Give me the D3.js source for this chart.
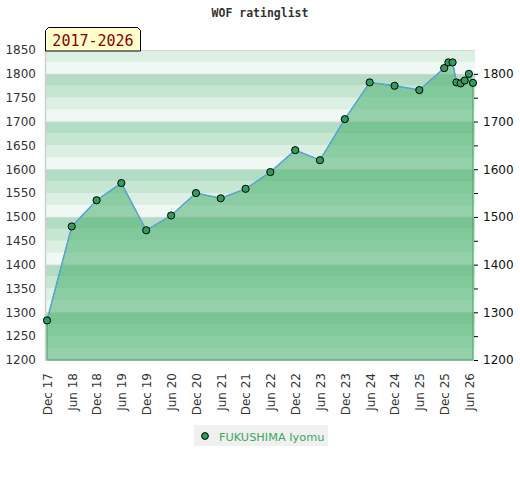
<!DOCTYPE html>
<html>
<head>
<meta charset="utf-8">
<script src="https://cdn.jsdelivr.net/npm/d3@7"></script>
<style>
  body { margin: 0; background: #fff; }
  text { font-family: "DejaVu Sans", sans-serif; }
</style>
</head>
<body>
<svg id="chart" width="520" height="480"></svg>
<script>
// data
var months = ['2017-12', '2018-06', '2018-12', '2019-06', '2019-12', '2020-06', '2020-12',
  '2021-06', '2021-12', '2022-06', '2022-12', '2023-06', '2023-12', '2024-06', '2024-12',
  '2025-06', '2025-12', '2026-01', '2026-02', '2026-03', '2026-04', '2026-05', '2026-06', '2026-07'];
var ratings = [1283, 1480, 1535, 1571, 1472, 1503, 1550, 1539, 1559, 1594, 1640, 1619, 1705,
  1782, 1775, 1766, 1812, 1824, 1824, 1782, 1780, 1786, 1800, 1781];
var xTicks = ['2017-12', '2018-06', '2018-12', '2019-06', '2019-12', '2020-06', '2020-12',
  '2021-06', '2021-12', '2022-06', '2022-12', '2023-06', '2023-12', '2024-06', '2024-12',
  '2025-06', '2025-12', '2026-06'];
var leftTicks = [1200, 1250, 1300, 1350, 1400, 1450, 1500, 1550, 1600, 1650, 1700, 1750, 1800, 1850];
var rightTicks = [1200, 1250, 1300, 1350, 1400, 1450, 1500, 1550, 1600, 1650, 1700, 1750, 1800];
var gridValues = [1200, 1300, 1400, 1500, 1600, 1700, 1800, 1850];
var stripeStarts = d3.range(1200, 1850, 25);
var title = 'WOF ratinglist';
var rangeLabel = '2017-2026';
var playerName = 'FUKUSHIMA Iyomu';

var parseMonth = d3.timeParse('%Y-%m');
var data = months.map(function(m, i) { return {date: parseMonth(m), value: ratings[i]}; });

var svg = d3.select('#chart');

// skala
var x = d3.scaleTime()
  .domain([parseMonth('2017-12'), parseMonth('2026-07')])
  .range([47, 473]);
var y = d3.scaleLinear()
  .domain([1200, 1850])
  .range([360, 50]);

var plotLeft = 45, plotRight = 475;

// latar belakang bergaris
var stripeColors = ['#eff8f3', '#dcefe3', '#c6e6d2', '#b2dcc3'];
svg.append('g').selectAll('rect')
  .data(stripeStarts)
  .enter().append('rect')
  .attr('x', plotLeft)
  .attr('width', plotRight - plotLeft)
  .attr('y', function(d) { return y(d + 25); })
  .attr('height', function(d) { return y(d) - y(d + 25); })
  .attr('fill', function(d) { return stripeColors[((d - 1200) / 25) % 4]; });

svg.append('g').selectAll('line')
  .data(gridValues)
  .enter().append('line')
  .attr('x1', plotLeft).attr('x2', plotRight)
  .attr('y1', function(d) { return y(d) + 0.5; })
  .attr('y2', function(d) { return y(d) + 0.5; })
  .attr('stroke', '#d6d6d6');

svg.append('line')
  .attr('x1', plotLeft + 0.5).attr('x2', plotLeft + 0.5)
  .attr('y1', y(1850)).attr('y2', y(1200) + 1)
  .attr('stroke', '#cfcfcf').attr('stroke-width', 1.5);

// area
var area = d3.area()
  .x(function(d) { return x(d.date); })
  .y0(y(1200))
  .y1(function(d) { return y(d.value); });
svg.append('path')
  .datum(data)
  .attr('d', area)
  .attr('fill', 'rgb(70,175,108)')
  .attr('fill-opacity', 0.54)
  .attr('stroke', '#3f9e5e')
  .attr('stroke-width', 1);

var line = d3.line()
  .x(function(d) { return x(d.date); })
  .y(function(d) { return y(d.value); });
svg.append('path')
  .datum(data)
  .attr('d', line)
  .attr('fill', 'none')
  .attr('stroke', '#5aa3dc')
  .attr('stroke-width', 1.4);

svg.append('g').selectAll('circle')
  .data(data)
  .enter().append('circle')
  .attr('cx', function(d) { return x(d.date); })
  .attr('cy', function(d) { return y(d.value); })
  .attr('r', 3.6)
  .attr('fill', '#2f9d5b')
  .attr('stroke', '#000')
  .attr('stroke-width', 1);

// sumbu
var yAxisLeft = d3.axisLeft(y).tickValues(leftTicks).tickSize(0).tickPadding(9)
  .tickFormat(d3.format('d'));
var gl = svg.append('g')
  .attr('transform', 'translate(' + plotLeft + ',0)')
  .call(yAxisLeft);
gl.select('.domain').remove();
gl.selectAll('text').attr('fill', '#333').style('font-size', '12px');

var yAxisRight = d3.axisRight(y).tickValues(rightTicks).tickSize(4).tickPadding(5)
  .tickFormat(function(d) { return d % 100 === 0 ? d : ''; });
var gr = svg.append('g')
  .attr('transform', 'translate(474,0)')
  .call(yAxisRight);
gr.select('.domain').remove();
gr.selectAll('line').attr('stroke', '#000');
gr.selectAll('text').attr('fill', '#111').style('font-size', '12px');

var xAxis = d3.axisBottom(x)
  .tickValues(xTicks.map(parseMonth))
  .tickFormat(d3.timeFormat('%b %y'))
  .tickSize(0);
var gx = svg.append('g')
  .attr('transform', 'translate(0,' + y(1200) + ')')
  .call(xAxis);
gx.select('.domain').remove();
gx.selectAll('text')
  .attr('transform', 'rotate(-90)')
  .attr('x', -13)
  .attr('y', 0)
  .attr('dy', '0.36em')
  .attr('text-anchor', 'end')
  .attr('fill', '#333')
  .style('font-size', '12px');

// judul
svg.append('text')
  .attr('x', 260)
  .attr('y', 17)
  .attr('text-anchor', 'middle')
  .style('font-family', '"DejaVu Sans Mono", monospace')
  .style('font-size', '11.5px')
  .style('font-weight', 'bold')
  .attr('fill', '#333')
  .text(title);

// label periode
svg.append('path')
  .attr('d', 'M45.5,51 L45.5,30.5 L48.5,27.5 L137.5,27.5 L140.5,30.5 L140.5,51 Z')
  .attr('fill', '#ffffcc')
  .attr('stroke', '#000');
svg.append('text')
  .attr('x', 93)
  .attr('y', 46)
  .attr('text-anchor', 'middle')
  .style('font-family', '"DejaVu Sans Mono", monospace')
  .style('font-size', '15px')
  .attr('fill', '#8b0000')
  .text(rangeLabel);

// legenda
var legend = svg.append('g').attr('transform', 'translate(194,425)');
legend.append('rect')
  .attr('width', 134).attr('height', 21)
  .attr('fill', '#f0f0f0');
legend.append('circle')
  .attr('cx', 11).attr('cy', 11).attr('r', 3.4)
  .attr('fill', '#2f9d5b').attr('stroke', '#000');
legend.append('text')
  .attr('x', 25).attr('y', 15.5)
  .style('font-size', '11.3px')
  .attr('fill', '#3aa85e')
  .text(playerName);
</script>
</body>
</html>
